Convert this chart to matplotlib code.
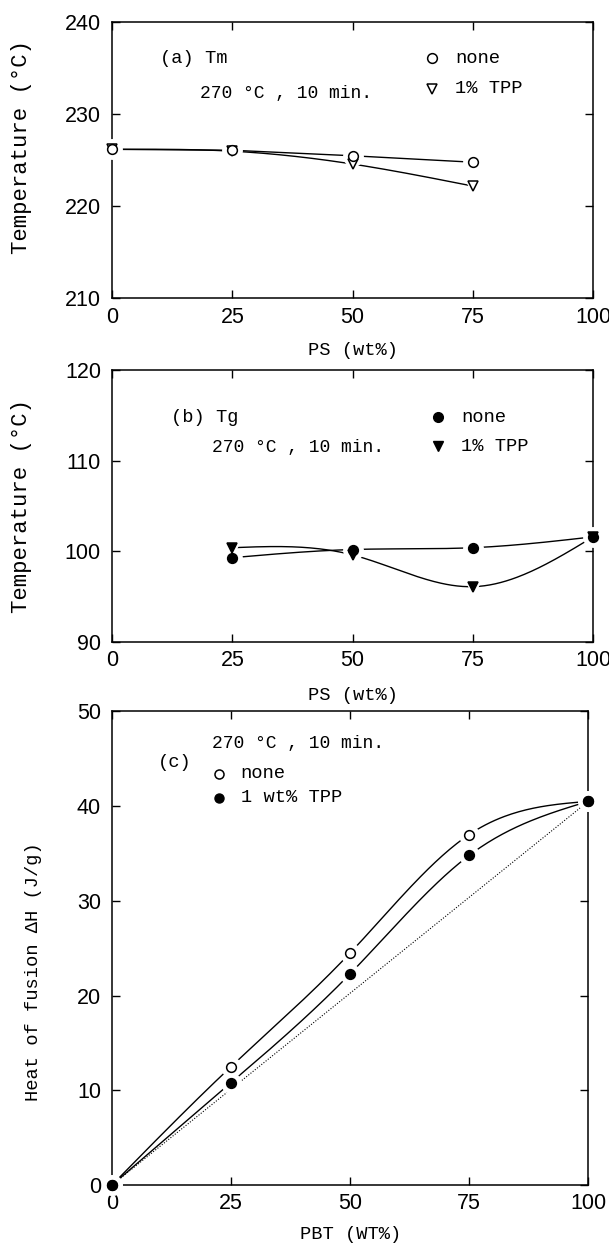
import matplotlib
matplotlib.use('Agg')
import matplotlib.pyplot as plt
import numpy as np

# Dados
# (a) Tm
x_a = [0, 25, 50, 75]
tm_none = [226.2, 226.1, 225.5, 224.8]
tm_tpp = [226.2, 226.0, 224.6, 222.2]

# (b) Tg
x_b = [25, 50, 75, 100]
tg_none = [99.3, 100.2, 100.4, 101.6]
tg_tpp = [100.4, 99.6, 96.1, 101.6]

# (c) heat of fusion
x_c = [0, 25, 50, 75, 100]
dh_none = [0.0, 12.5, 24.5, 37.0, 40.5]
dh_tpp = [0.0, 10.8, 22.3, 34.8, 40.5]

xticks = [0, 25, 50, 75, 100]

mono = 'Liberation Mono'
sans = 'Liberation Sans'


def spline(x, y, n=200):
    # natural cubic spline, only for drawing the smooth line through the points
    x = np.asarray(x, float)
    y = np.asarray(y, float)
    k = len(x)
    h = np.diff(x)
    A = np.zeros((k, k))
    r = np.zeros(k)
    A[0, 0] = A[-1, -1] = 1
    for i in range(1, k - 1):
        A[i, i - 1] = h[i - 1]
        A[i, i] = 2 * (h[i - 1] + h[i])
        A[i, i + 1] = h[i]
        r[i] = 6 * ((y[i + 1] - y[i]) / h[i] - (y[i] - y[i - 1]) / h[i - 1])
    M = np.linalg.solve(A, r)
    xs = np.linspace(x[0], x[-1], n)
    idx = np.clip(np.searchsorted(x, xs) - 1, 0, k - 2)
    x0, x1 = x[idx], x[idx + 1]
    hh = x1 - x0
    t0, t1 = x1 - xs, xs - x0
    ys = (M[idx] * t0 ** 3 + M[idx + 1] * t1 ** 3) / (6 * hh) \
        + (y[idx] / hh - M[idx] * hh / 6) * t0 + (y[idx + 1] / hh - M[idx + 1] * hh / 6) * t1
    return xs, ys


def estilo(ax, ylim, yticks, xlabel, ylabel, ylsize, ylx, yly, xly):
    ax.set_xlim(0, 100)
    ax.set_ylim(*ylim)
    ax.set_xticks(xticks)
    ax.set_yticks(yticks)
    ax.tick_params(direction='in', length=6, width=1.0, top=True, right=True,
                   labelsize=15.5)
    ax.tick_params(axis='x', pad=6)
    ax.tick_params(axis='y', pad=8)
    for lab in ax.get_xticklabels() + ax.get_yticklabels():
        lab.set_family(sans)
    for s in ax.spines.values():
        s.set_linewidth(1.1)
    ax.set_xlabel(xlabel, family=mono, fontsize=13.5)
    ax.set_ylabel(ylabel, family=mono, fontsize=ylsize)
    ax.yaxis.set_label_coords(ylx, yly)
    ax.xaxis.set_label_coords(0.5, xly)


def serie(ax, x, y, marker, fc, ms, smooth=True):
    if smooth:
        xs, ys = spline(x, y)
    else:
        xs, ys = x, y
    ax.plot(xs, ys, color='black', lw=1.0, zorder=2, clip_on=False)
    ax.plot(x, y, linestyle='none', marker=marker, ms=ms + 8, mfc='white',
            mec='none', zorder=3, clip_on=False)
    ax.plot(x, y, linestyle='none', marker=marker, ms=ms, mfc=fc,
            mec='black', mew=1.1, zorder=4, clip_on=False)


fig = plt.figure(figsize=(6.09, 12.48), dpi=100)

# (a)
ax1 = fig.add_axes([0.184, 0.761, 0.790, 0.221])
serie(ax1, x_a, tm_tpp, 'v', 'white', 7)
serie(ax1, x_a, tm_none, 'o', 'white', 7, smooth=False)
estilo(ax1, (210, 240), [210, 220, 230, 240], 'PS (wt%)',
       'Temperature (°C)', 16, -0.166, 0.55, -0.159)
ax1.text(10, 236.1, '(a) Tm', family=mono, fontsize=13.5, va='center')
ax1.text(18.3, 232.3, '270 °C , 10 min.', family=mono, fontsize=13, va='center')
ax1.plot([66.5], [236.1], 'o', ms=7, mfc='white', mec='black', mew=1.1)
ax1.plot([66.5], [232.8], 'v', ms=7, mfc='white', mec='black', mew=1.1)
ax1.text(71.3, 236.1, 'none', family=mono, fontsize=13.5, va='center')
ax1.text(71.3, 232.8, '1% TPP', family=mono, fontsize=13.5, va='center')

# (b)
ax2 = fig.add_axes([0.184, 0.4856, 0.790, 0.2179])
serie(ax2, x_b, tg_tpp, 'v', 'black', 7)
serie(ax2, x_b, tg_none, 'o', 'black', 7)
estilo(ax2, (90, 120), [90, 100, 110, 120], 'PS (wt%)',
       'Temperature (°C)', 16, -0.166, 0.5, -0.165)
ax2.text(12.3, 114.8, '(b) Tg', family=mono, fontsize=13.5, va='center')
ax2.text(20.8, 111.5, '270 °C , 10 min.', family=mono, fontsize=13, va='center')
ax2.plot([67.8], [114.8], 'o', ms=7, mfc='black', mec='black')
ax2.plot([67.8], [111.6], 'v', ms=7, mfc='black', mec='black')
ax2.text(72.6, 114.8, 'none', family=mono, fontsize=13.5, va='center')
ax2.text(72.6, 111.6, '1% TPP', family=mono, fontsize=13.5, va='center')

# (c)
ax3 = fig.add_axes([0.184, 0.0505, 0.782, 0.3795])
ax3.plot([x_c[0], x_c[-1]], [dh_none[0], dh_none[-1]], color='black',
         lw=0.8, linestyle=(0, (1, 1.5)), zorder=1)
serie(ax3, x_c, dh_none, 'o', 'white', 7)
serie(ax3, x_c, dh_tpp, 'o', 'black', 7)
estilo(ax3, (0, 50), [0, 10, 20, 30, 40, 50], 'PBT (WT%)',
       'Heat of fusion ΔH (J/g)', 13.5, -0.147, 0.45, -0.087)
ax3.text(21, 46.6, '270 °C , 10 min.', family=mono, fontsize=13, va='center')
ax3.text(9.6, 44.6, '(c)', family=mono, fontsize=13.5, va='center')
ax3.plot([22.5], [43.4], 'o', ms=6.5, mfc='white', mec='black', mew=1.1)
ax3.plot([22.5], [40.9], 'o', ms=6.5, mfc='black', mec='black')
ax3.text(27, 43.4, 'none', family=mono, fontsize=13.5, va='center')
ax3.text(27, 40.9, '1 wt% TPP', family=mono, fontsize=13.5, va='center')

fig.savefig('out.png', dpi=100)
